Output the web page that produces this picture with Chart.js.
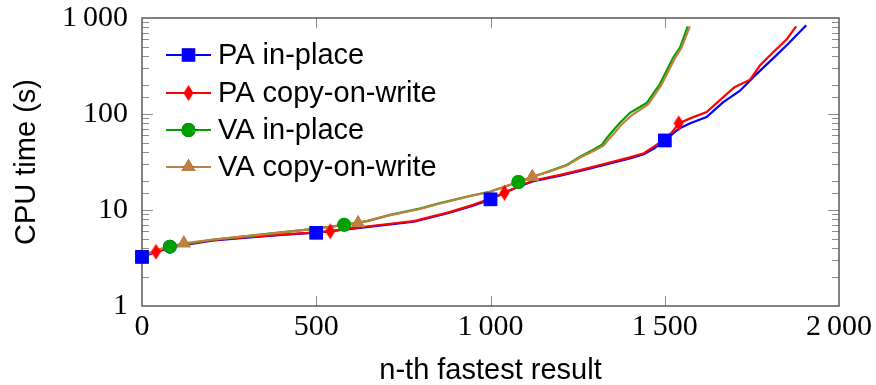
<!DOCTYPE html>
<html>
<head>
<meta charset="utf-8">
<script src="https://cdn.jsdelivr.net/npm/chart.js@4.4.0/dist/chart.umd.min.js"></script>
<style>
  html, body { margin: 0; padding: 0; background: #fff; }
  #wrap { width: 876px; height: 385px; }
</style>
</head>
<body>
<div id="wrap"><canvas id="chart" width="876" height="385"></canvas></div>
<script>
// data
const seriesNames = ["PA in-place", "PA copy-on-write", "VA in-place", "VA copy-on-write"];

const paInX = [0, 40, 100, 200, 300, 400, 500, 600, 700, 780, 880, 950, 1000, 1050, 1120, 1200, 1257, 1300, 1400, 1440, 1470, 1500, 1540, 1573, 1620, 1668, 1716, 1764, 1811, 1850, 1906];
const paInY = [3.25, 3.65, 4.2, 4.8, 5.15, 5.5, 5.8, 6.35, 7.0, 7.55, 9.3, 11.1, 12.9, 15.8, 19.8, 22.8, 25.5, 28, 34.5, 38, 44, 53, 70, 80, 93, 133, 175, 262, 380, 520, 840];

const paCowX = [0, 40, 100, 200, 300, 400, 500, 540, 600, 700, 780, 880, 950, 1000, 1040, 1120, 1200, 1257, 1300, 1400, 1440, 1470, 1500, 1520, 1540, 1573, 1620, 1668, 1700, 1745, 1773, 1811, 1850, 1877];
const paCowY = [3.3, 3.67, 4.25, 4.85, 5.2, 5.55, 5.85, 6.0, 6.45, 7.1, 7.65, 9.45, 11.3, 13.2, 15.1, 20.2, 23.2, 26, 28.6, 35.3, 39, 46, 55, 64, 80, 90, 105, 150, 190, 228, 320, 440, 600, 820];

const vaInX = [0, 40, 80, 200, 300, 400, 500, 580, 650, 712, 800, 855, 940, 1000, 1080, 1170, 1220, 1257, 1295, 1320, 1335, 1350, 1370, 1400, 1448, 1486, 1524, 1544, 1566];
const vaInY = [3.3, 3.8, 4.15, 4.9, 5.35, 5.85, 6.4, 7.0, 7.7, 8.9, 10.4, 11.8, 14.0, 15.6, 19.6, 25.5, 29.6, 35.8, 42.5, 48, 57, 66, 80, 103, 130, 205, 385, 495, 820];

const vaCowX = [0, 40, 120, 200, 300, 400, 500, 620, 712, 800, 855, 940, 1000, 1120, 1170, 1220, 1257, 1300, 1325, 1340, 1355, 1375, 1405, 1452, 1490, 1528, 1548, 1572];
const vaCowY = [3.3, 3.8, 4.5, 4.9, 5.35, 5.85, 6.4, 7.3, 8.85, 10.3, 11.7, 13.9, 15.5, 22.2, 25.2, 29.2, 35.2, 42, 47, 55, 63, 77, 97, 126, 200, 375, 490, 820];

const paInMarks = [0, 500, 1000, 1500];
const paCowMarks = [40, 540, 1040, 1540];
const vaInMarks = [80, 580, 1080];
const vaCowMarks = [120, 620, 1120];

const xTicks = [0, 500, 1000, 1500, 2000];

// tall diamond like pgfplots' "diamond*"
const diamond = document.createElement("canvas");
diamond.width = 11; diamond.height = 17;
(() => {
  const c = diamond.getContext("2d");
  c.fillStyle = "#ff0000";
  c.beginPath();
  c.moveTo(5.5, 0.5); c.lineTo(10.5, 8.5); c.lineTo(5.5, 16.5); c.lineTo(0.5, 8.5);
  c.closePath(); c.fill();
})();

const fmtNum = v => {
  const s = String(Math.round(v));
  return s.length > 3 ? s.slice(0, s.length - 3) + "\u2009" + s.slice(-3) : s;
};

const pts = (xs, ys) => xs.map((x, i) => ({ x: x, y: ys[i] }));

const styles = [
  { color: "#0000ff", pointStyle: "rect", r: 9.5, marks: paInMarks, xs: paInX, ys: paInY },
  { color: "#ff0000", pointStyle: diamond, r: 7, marks: paCowMarks, xs: paCowX, ys: paCowY },
  { color: "#00a000", pointStyle: "circle", r: 7, marks: vaInMarks, xs: vaInX, ys: vaInY },
  { color: "#bf8040", pointStyle: "triangle", r: 8, marks: vaCowMarks, xs: vaCowX, ys: vaCowY }
];

const datasets = styles.map((s, i) => ({
  label: seriesNames[i],
  data: pts(s.xs, s.ys),
  borderColor: s.color,
  backgroundColor: s.color,
  borderWidth: 2.2,
  pointRadius: 0,
  pointHoverRadius: 0,
  tension: 0,
  clip: false,
  order: 4 - i
}));

const marker = (ctx, s, x, y) => {
  ctx.beginPath();
  Chart.helpers.drawPoint(ctx, { pointStyle: s.pointStyle, radius: s.r, borderWidth: 0, rotation: 0 }, x, y);
  if (typeof s.pointStyle === "string") {
    ctx.fillStyle = s.color;
    ctx.fill();
  }
};

// frame, inward ticks, markers on top and the legend
const framePlugin = {
  id: "frame",
  afterDatasetsDraw(chart) {
    const { ctx, chartArea: a, scales } = chart;
    ctx.save();
    ctx.strokeStyle = "#8c8c8c";
    ctx.lineWidth = 1;
    ctx.beginPath();
    scales.x.ticks.forEach(t => {
      if (t.value <= 0 || t.value >= 2000) return;
      const px = Math.round(scales.x.getPixelForValue(t.value)) + 0.5;
      ctx.moveTo(px, a.bottom); ctx.lineTo(px, a.bottom - 10);
      ctx.moveTo(px, a.top); ctx.lineTo(px, a.top + 10);
    });
    scales.y.ticks.forEach(t => {
      const l = Math.log10(t.value);
      const major = Math.abs(l - Math.round(l)) < 1e-9;
      if (t.value <= 1 || t.value >= 1000) return;
      const len = major ? 11 : 7;
      const py = Math.round(scales.y.getPixelForValue(t.value)) + 0.5;
      ctx.moveTo(a.left, py); ctx.lineTo(a.left + len, py);
      ctx.moveTo(a.right, py); ctx.lineTo(a.right - len, py);
    });
    ctx.stroke();
    ctx.strokeStyle = "#5a5a5a";
    ctx.lineWidth = 1.5;
    ctx.strokeRect(a.left, a.top, a.right - a.left, a.bottom - a.top);

    // markers, drawn over all the lines
    styles.forEach((s, i) => {
      const meta = chart.getDatasetMeta(i);
      meta.data.forEach((el, j) => {
        if (s.marks.includes(s.xs[j])) marker(ctx, s, el.x, el.y);
      });
    });

    // legend
    const rows = [55, 93, 130, 167];
    styles.forEach((s, i) => {
      const y = rows[i];
      ctx.strokeStyle = s.color;
      ctx.lineWidth = 2.2;
      ctx.beginPath();
      ctx.moveTo(166, y); ctx.lineTo(211, y);
      ctx.stroke();
      marker(ctx, s, 188.5, y);
      ctx.fillStyle = "#000";
      ctx.font = "29px 'Liberation Sans'";
      ctx.textBaseline = "middle";
      ctx.textAlign = "left";
      ctx.fillText(seriesNames[i], 218, y + 1);
    });
    ctx.restore();
  }
};

new Chart(document.getElementById("chart"), {
  type: "line",
  data: { datasets: datasets },
  options: {
    responsive: false,
    animation: false,
    events: [],
    layout: { padding: { left: 0, top: 18, right: 37, bottom: 0 } },
    plugins: { legend: { display: false }, tooltip: { enabled: false } },
    scales: {
      x: {
        type: "linear",
        min: 0, max: 2000,
        afterFit: s => { s.height = 79; s.paddingLeft = 0; s.paddingRight = 0; },
        afterBuildTicks: s => { s.ticks = xTicks.map(v => ({ value: v })); },
        grid: { display: false, drawTicks: false },
        border: { display: false },
        ticks: {
          padding: 3,
          color: "#000",
          maxRotation: 0,
          autoSkip: false,
          font: { family: "'Liberation Serif'", size: 30 },
          callback: v => fmtNum(v)
        },
        title: {
          display: true,
          text: "n-th fastest result",
          color: "#000",
          padding: { top: 0, bottom: 0 },
          font: { family: "'Liberation Sans'", size: 29, lineHeight: 1 }
        }
      },
      y: {
        type: "logarithmic",
        min: 1, max: 1000,
        afterFit: s => { s.width = 142; s.paddingTop = 0; s.paddingBottom = 0; },
        grid: { display: false, drawTicks: false },
        border: { display: false },
        ticks: {
          padding: 14,
          color: "#000",
          autoSkip: false,
          font: { family: "'Liberation Serif'", size: 30 },
          callback: v => {
            const l = Math.log10(v);
            return Math.abs(l - Math.round(l)) < 1e-9 ? fmtNum(v) : "";
          }
        },
        title: {
          display: true,
          text: "CPU time (s)",
          color: "#000",
          padding: { top: 12, bottom: 0 },
          font: { family: "'Liberation Sans'", size: 29, lineHeight: 1 }
        }
      }
    }
  },
  plugins: [framePlugin]
});
</script>
</body>
</html>
